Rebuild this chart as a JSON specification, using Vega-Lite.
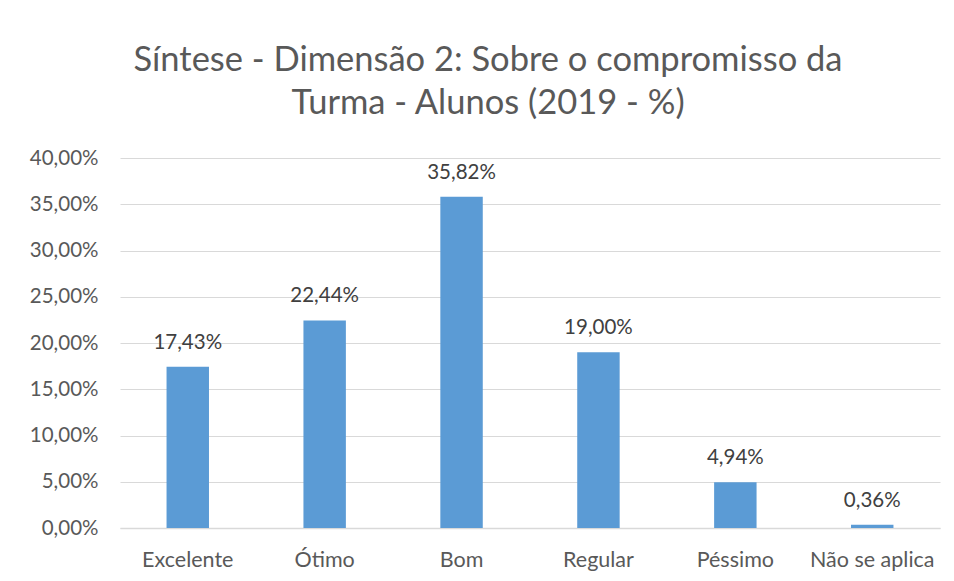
{
  "$schema": "https://vega.github.io/schema/vega-lite/v6.json",
  "autosize": "none",
  "width": 820,
  "height": 370,
  "padding": {"left": 120, "top": 158, "right": 14, "bottom": 53},
  "background": "white",
  "config": {
    "locale": {"number": {"decimal": ",", "thousands": ".", "grouping": [3], "currency": ["R$", ""]}},
    "view": {"stroke": null},
    "font": "Lato"
  },
  "title": {
    "text": ["Síntese - Dimensão 2: Sobre o compromisso da", "Turma - Alunos (2019 - %)"],
    "fontSize": 34.5,
    "fontWeight": "normal",
    "color": "#595959",
    "font": "Lato",
    "anchor": "middle",
    "dx": -42,
    "offset": 27,
    "lineHeight": 43
  },
  "data": {
    "values": [
      {"categoria": "Excelente", "valor": 0.1743},
      {"categoria": "Ótimo", "valor": 0.2244},
      {"categoria": "Bom", "valor": 0.3582},
      {"categoria": "Regular", "valor": 0.19},
      {"categoria": "Péssimo", "valor": 0.0494},
      {"categoria": "Não se aplica", "valor": 0.0036}
    ]
  },
  "encoding": {
    "x": {
      "field": "categoria",
      "type": "nominal",
      "sort": null,
      "scale": {"paddingInner": 0.69, "paddingOuter": 0.34},
      "axis": {
        "title": null,
        "labelAngle": 0,
        "labelFontSize": 21.5,
        "labelColor": "#595959",
        "labelPadding": 21,
        "ticks": false,
        "domainColor": "#D9D9D9",
        "domainWidth": 1.5
      }
    },
    "y": {
      "field": "valor",
      "type": "quantitative",
      "scale": {"domain": [0, 0.4]},
      "axis": {
        "title": null,
        "format": ".2%",
        "values": [0, 0.05, 0.1, 0.15, 0.2, 0.25, 0.3, 0.35, 0.4],
        "labelOverlap": false,
        "labelFontSize": 20.5,
        "labelColor": "#595959",
        "labelPadding": 22,
        "ticks": false,
        "domain": false,
        "gridColor": "#D9D9D9",
        "gridWidth": 1.2
      }
    }
  },
  "layer": [
    {"mark": {"type": "bar", "color": "#5B9BD5"}},
    {
      "mark": {"type": "text", "baseline": "bottom", "dy": -14, "fontSize": 20.5, "color": "#404040"},
      "encoding": {"text": {"field": "valor", "type": "quantitative", "format": ".2%"}}
    }
  ]
}
